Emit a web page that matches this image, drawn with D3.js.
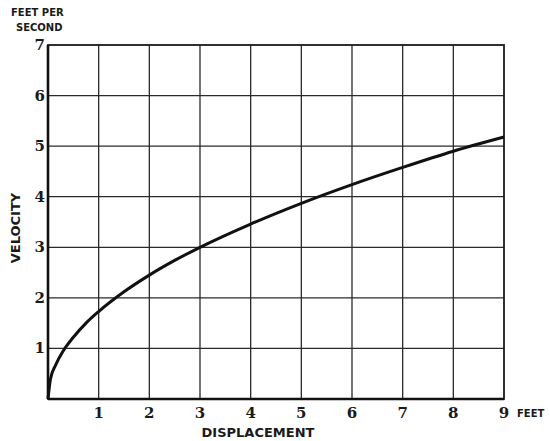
<!DOCTYPE html>
<html>
<head>
<meta charset="utf-8">
<script src="https://cdn.jsdelivr.net/npm/d3@7"></script>
<style>
  body { margin: 0; background: #fff; }
  .tick-num { font-family: "DejaVu Serif", "Liberation Serif", serif; font-weight: bold; font-size: 15px; fill: #1a1a1a; }
  .cap { font-family: "DejaVu Sans", "Liberation Sans", sans-serif; font-weight: bold; fill: #1a1a1a; }
</style>
</head>
<body>
<script>
// values
var displacement = [0, 0.05, 0.15, 0.3, 0.5, 0.75, 1, 1.5, 2, 2.5, 3, 4, 5, 6, 7, 8, 9];
var velocity = [0, 0.4, 0.67, 0.95, 1.22, 1.5, 1.73, 2.12, 2.45, 2.74, 3.0, 3.46, 3.87, 4.24, 4.58, 4.9, 5.18];
var xTicks = [1, 2, 3, 4, 5, 6, 7, 8, 9];
var yTicks = [1, 2, 3, 4, 5, 6, 7];

var width = 550, height = 441;
var plot = {left: 48, right: 504, top: 45, bottom: 399};

var svg = d3.select("body").append("svg")
    .attr("width", width)
    .attr("height", height);

var x = d3.scaleLinear().domain([0, 9]).range([plot.left, plot.right]);
var y = d3.scaleLinear().domain([0, 7]).range([plot.bottom, plot.top]);

// grid
svg.append("g").selectAll("line")
    .data(xTicks.slice(0, -1))
    .enter().append("line")
    .attr("x1", function(d) { return x(d); })
    .attr("x2", function(d) { return x(d); })
    .attr("y1", plot.top).attr("y2", plot.bottom)
    .attr("stroke", "#2a2a2a").attr("stroke-width", 1.3);

svg.append("g").selectAll("line")
    .data(yTicks.slice(0, -1))
    .enter().append("line")
    .attr("x1", plot.left).attr("x2", plot.right)
    .attr("y1", function(d) { return y(d); })
    .attr("y2", function(d) { return y(d); })
    .attr("stroke", "#2a2a2a").attr("stroke-width", 1.3);

// frame
svg.append("rect")
    .attr("x", plot.left).attr("y", plot.top)
    .attr("width", plot.right - plot.left).attr("height", plot.bottom - plot.top)
    .attr("fill", "none").attr("stroke", "#1a1a1a").attr("stroke-width", 1.8);
svg.append("line")
    .attr("x1", plot.left).attr("x2", plot.left).attr("y1", plot.top).attr("y2", plot.bottom)
    .attr("stroke", "#111").attr("stroke-width", 2.6);
svg.append("line")
    .attr("x1", plot.left).attr("x2", plot.right).attr("y1", plot.bottom).attr("y2", plot.bottom)
    .attr("stroke", "#111").attr("stroke-width", 2.6);

// tick numbers
svg.append("g").selectAll("text")
    .data(xTicks)
    .enter().append("text")
    .attr("class", "tick-num")
    .attr("x", function(d) { return x(d); })
    .attr("y", plot.bottom + 19)
    .attr("text-anchor", "middle")
    .text(function(d) { return d; });

svg.append("g").selectAll("text")
    .data(yTicks)
    .enter().append("text")
    .attr("class", "tick-num")
    .attr("x", plot.left - 3)
    .attr("y", function(d) { return y(d) + 5; })
    .attr("text-anchor", "end")
    .text(function(d) { return d; });

// curve
var line = d3.line()
    .x(function(d, i) { return x(displacement[i]); })
    .y(function(d) { return y(d); })
    .curve(d3.curveMonotoneX);

svg.append("path")
    .datum(velocity)
    .attr("d", line)
    .attr("fill", "none")
    .attr("stroke", "#111")
    .attr("stroke-width", 3);

// labels
svg.append("text").attr("class", "cap")
    .attr("x", 11).attr("y", 16).style("font-size", "10px")
    .text("FEET PER");
svg.append("text").attr("class", "cap")
    .attr("x", 16).attr("y", 31).style("font-size", "10px")
    .text("SECOND");
svg.append("text").attr("class", "cap")
    .attr("transform", "translate(20,228) rotate(-90)")
    .attr("text-anchor", "middle").style("font-size", "13px")
    .text("VELOCITY");
svg.append("text").attr("class", "cap")
    .attr("x", 258).attr("y", 437)
    .attr("text-anchor", "middle").style("font-size", "13px")
    .text("DISPLACEMENT");
svg.append("text").attr("class", "cap")
    .attr("x", 517).attr("y", 417).style("font-size", "10px")
    .text("FEET");
</script>
</body>
</html>
